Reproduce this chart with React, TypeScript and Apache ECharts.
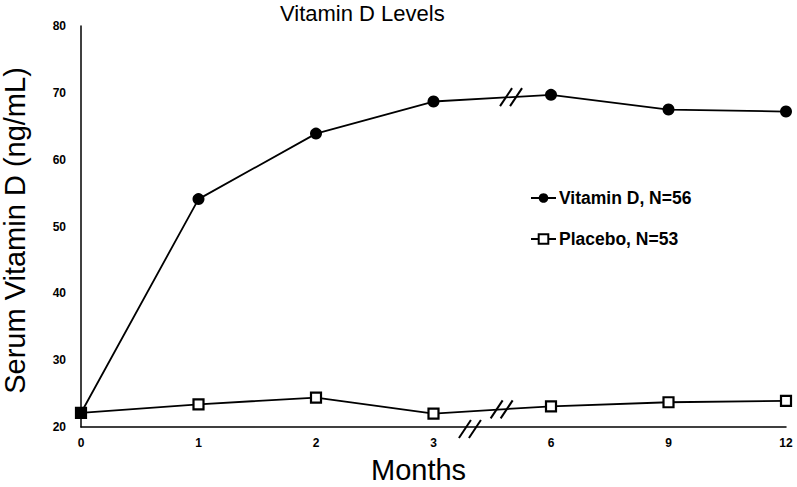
import React, { useEffect, useRef } from "react";
import * as echarts from "echarts";

const months = ["0", "1", "2", "3", "6", "9", "12"];
const vitaminD = [22.1, 54.1, 63.9, 68.7, 69.7, 67.5, 67.2];
const placebo = [22.1, 23.4, 24.4, 22.0, 23.1, 23.7, 23.9];
const vitName = "Vitamin D, N=56";
const plaName = "Placebo, N=53";

export default function App() {
  const ref = useRef<HTMLDivElement>(null);
  useEffect(() => {
    document.body.style.margin = "0";
    const chart = echarts.init(ref.current!, null, { renderer: "svg" });
    const option: any = {
      animation: false,
      backgroundColor: "#fff",
      title: [
        {
          text: "Vitamin D Levels",
          left: 280,
          top: 2,
          padding: 0,
          textStyle: { fontFamily: "Liberation Sans", fontSize: 22, fontWeight: "normal", color: "#000" },
        },
        {
          text: "Months",
          left: 371,
          top: 455,
          padding: 0,
          textStyle: { fontFamily: "Liberation Sans", fontSize: 29, fontWeight: "normal", color: "#000" },
        },
      ],
      grid: { left: 81, right: 11, top: 26, bottom: 60, outerBoundsMode: "none", containLabel: false },
      legend: {
        orient: "vertical",
        left: 530,
        top: 188,
        padding: 0,
        itemWidth: 25,
        itemHeight: 12,
        itemGap: 21,
        data: [vitName, plaName],
        textStyle: { fontFamily: "Liberation Sans", fontSize: 17.5, fontWeight: "bold", color: "#000", lineHeight: 20, padding: [0, 0, 0, -2] },
      },
      xAxis: {
        type: "category",
        data: months,
        boundaryGap: false,
        axisLine: { lineStyle: { color: "#000", width: 1.5 } },
        axisTick: { show: false },
        axisLabel: { fontFamily: "Liberation Sans", fontSize: 12, fontWeight: "bold", color: "#000", margin: 10 },
      },
      yAxis: {
        type: "value",
        min: 20,
        max: 80,
        interval: 10,
        name: "Serum Vitamin D (ng/mL)",
        nameLocation: "middle",
        nameGap: 52,
        nameTextStyle: { fontFamily: "Liberation Sans", fontSize: 29, color: "#000", padding: [0, 0, 0, -8] },
        axisLine: { show: true, lineStyle: { color: "#000", width: 1.5 } },
        axisTick: { show: false },
        splitLine: { show: false },
        axisLabel: { fontFamily: "Liberation Sans", fontSize: 12, fontWeight: "bold", color: "#000", margin: 15 },
      },
      series: [
        {
          name: plaName,
          type: "line",
          data: placebo,
          symbol: "rect",
          symbolSize: 10,
          lineStyle: { color: "#000", width: 1.8 },
          itemStyle: { color: "#fff", borderColor: "#000", borderWidth: 2.2 },
          z: 2,
        },
        {
          name: vitName,
          type: "line",
          data: vitaminD,
          symbol: "circle",
          symbolSize: 12,
          lineStyle: { color: "#000", width: 1.8 },
          itemStyle: { color: "#000" },
          z: 3,
        },
      ],
    };
    chart.setOption(option);

    const px = (s: number, i: number, v: number) => chart.convertToPixel({ seriesIndex: s }, [i, v]) as number[];
    const along = (s: number, arr: number[], f: number) => {
      const a = px(s, 3, arr[3]);
      const b = px(s, 4, arr[4]);
      return [a[0] + f * (b[0] - a[0]), a[1] + f * (b[1] - a[1])];
    };
    const mark = (c: number[]) =>
      [-5, 5].map((off) => ({
        type: "line",
        shape: { x1: c[0] + off - 6, y1: c[1] + 9, x2: c[0] + off + 6, y2: c[1] - 9 },
        style: { stroke: "#000", lineWidth: 2 },
        z: 10,
      }));
    const a3 = px(0, 3, 20);
    const a4 = px(0, 4, 20);
    const axisC = [a3[0] + 0.31 * (a4[0] - a3[0]), a3[1] + 2];
    chart.setOption({
      graphic: [...mark(along(1, vitaminD, 0.66)), ...mark(along(0, placebo, 0.58)), ...mark(axisC)],
    });
    return () => chart.dispose();
  }, []);
  return <div ref={ref} style={{ width: 797, height: 487 }} />;
}
